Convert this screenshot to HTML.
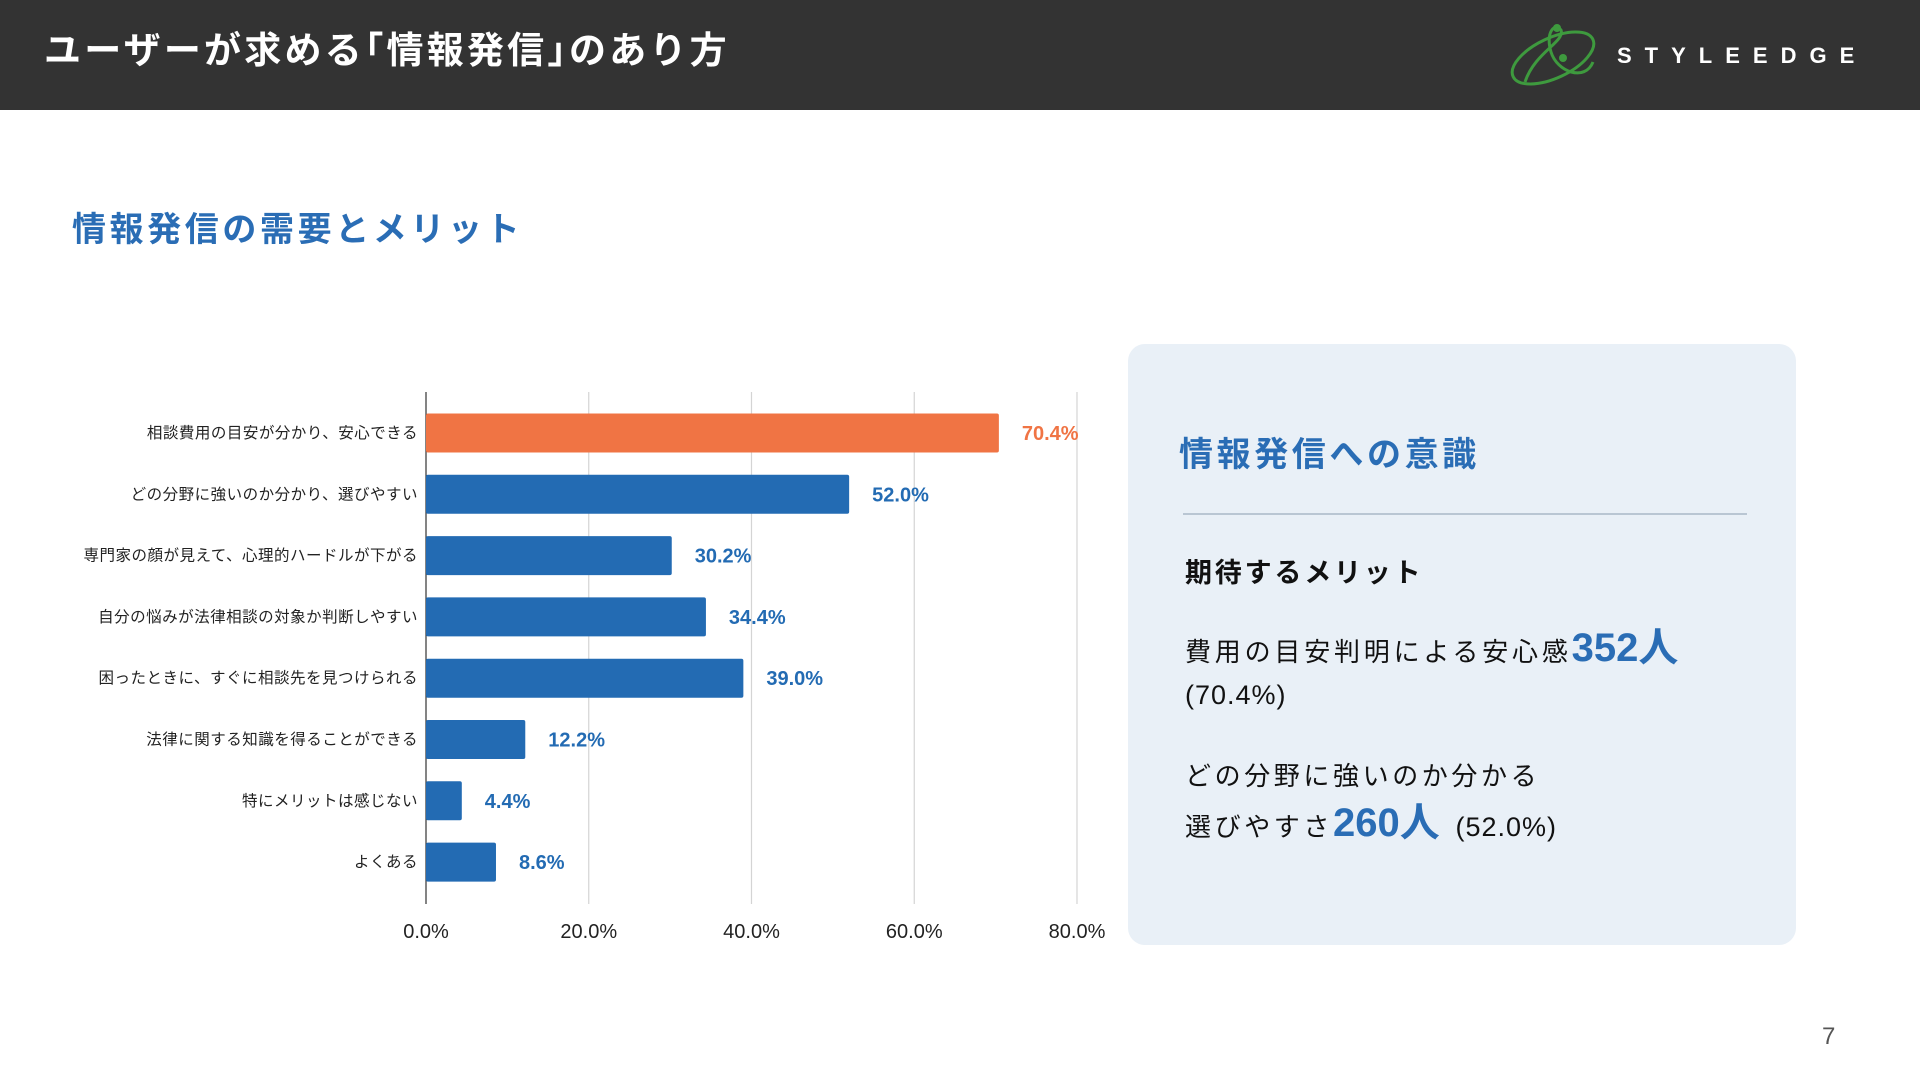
<!DOCTYPE html>
<html lang="ja"><head><meta charset="utf-8">
<style>
html,body{margin:0;padding:0;}
body{width:1920px;height:1080px;position:relative;background:#fff;overflow:hidden;font-family:"Liberation Sans","Noto Sans CJK JP",sans-serif;}
.abs{position:absolute;white-space:nowrap;}
</style></head>
<body>
<div class="abs" style="left:0;top:0;width:1920px;height:110px;background:#333333;"></div>
<div class="abs" style="left:44px;top:28px;font-size:37px;font-weight:bold;color:#fff;line-height:46px;letter-spacing:3.2px;">ユーザーが求める｢情報発信｣のあり方</div>
<svg class="abs" style="left:1505px;top:22px" width="96" height="66" viewBox="0 0 96 66">
 <ellipse cx="48" cy="36" rx="44" ry="20" fill="none" stroke="#3e9a3e" stroke-width="3" transform="rotate(-25 48 36)"/>
 <path d="M20 60 C 30 30, 60 20, 56 8 C 50 0, 40 10, 46 30 C 52 50, 80 60, 88 40" fill="none" stroke="#3e9a3e" stroke-width="3"/>
 <circle cx="52" cy="6" r="4" fill="#3e9a3e"/>
 <circle cx="58" cy="36" r="4" fill="#3e9a3e"/>
</svg>
<div class="abs" style="left:1617px;top:43px;font-size:22px;font-weight:bold;color:#fff;letter-spacing:13px;line-height:26px;">STYLEEDGE</div>

<div class="abs" style="left:72px;top:208px;font-size:34px;font-weight:bold;color:#2a6db5;line-height:44px;letter-spacing:3.6px;">情報発信の需要とメリット</div>

<svg id="chart" class="abs" style="left:0;top:0" width="1120" height="1000"></svg>

<div class="abs" style="left:1128px;top:344px;width:668px;height:601px;background:#e9f0f7;border-radius:17px;"></div>
<div class="abs" style="left:1179px;top:433px;font-size:34px;font-weight:bold;color:#2a6db5;line-height:44px;letter-spacing:3.6px;">情報発信への意識</div>
<div class="abs" style="left:1183px;top:513px;width:564px;height:2px;background:#b9c6d3;"></div>
<div class="abs" style="left:1185px;top:556px;font-size:27px;font-weight:bold;color:#111;line-height:34px;letter-spacing:2.8px;">期待するメリット</div>
<div class="abs" style="left:1185px;top:624px;font-size:26px;color:#111;line-height:48px;"><span style="letter-spacing:3.8px;">費用の目安判明による安心感</span><span style="font-size:40px;font-weight:bold;color:#2a6db5;">352人</span></div>
<div class="abs" style="left:1185px;top:678px;font-size:27px;color:#111;line-height:34px;letter-spacing:1px;">(70.4%)</div>
<div class="abs" style="left:1185px;top:759px;font-size:26px;color:#111;line-height:34px;letter-spacing:3.6px;">どの分野に強いのか分かる</div>
<div class="abs" style="left:1185px;top:799px;font-size:26px;color:#111;line-height:48px;"><span style="letter-spacing:3.6px;">選びやすさ</span><span style="font-size:40px;font-weight:bold;color:#2a6db5;">260人</span> <span style="font-size:27px;letter-spacing:1px;">&nbsp;(52.0%)</span></div>

<div class="abs" style="left:1822px;top:1023px;font-size:24px;color:#555;line-height:28px;">7</div>

<script>
const categories=["相談費用の目安が分かり、安心できる","どの分野に強いのか分かり、選びやすい","専門家の顔が見えて、心理的ハードルが下がる","自分の悩みが法律相談の対象か判断しやすい","困ったときに、すぐに相談先を見つけられる","法律に関する知識を得ることができる","特にメリットは感じない","よくある"];
const values=[70.4,52.0,30.2,34.4,39.0,12.2,4.4,8.6];
const ticks=[0,20,40,60,80];
const tickLabels=["0.0%","20.0%","40.0%","60.0%","80.0%"];
const NS="http://www.w3.org/2000/svg";
const svg=document.getElementById("chart");
const X0=426,X1=1077,VMAX=80,TOP=392,BOT=904,C0=433,STEP=61.3,BH=39;
const xs=v=>X0+(X1-X0)*v/VMAX;
const yc=i=>C0+i*STEP;
function mk(tag,attrs){const e=document.createElementNS(NS,tag);for(const k in attrs)e.setAttribute(k,attrs[k]);svg.appendChild(e);return e;}
ticks.forEach((t,i)=>{
  if(t>0){const g=mk("line",{x1:xs(t),x2:xs(t),y1:TOP,y2:BOT,stroke:"#d4d4d4","stroke-width":1.2});
  
  }
  const tl=mk("text",{x:xs(t),y:938,"text-anchor":"middle","font-size":20,fill:"#222"});
  tl.textContent=tickLabels[i];
  
  
});
const ax=mk("line",{x1:X0,x2:X0,y1:TOP,y2:BOT,stroke:"#333","stroke-width":1.2});


values.forEach((v,i)=>{
  const col=i===0?"#f07444":"#236bb3";
  const r=mk("rect",{x:X0,y:yc(i)-BH/2,width:xs(v)-X0,height:BH,fill:col,rx:2});
  
  
  const vl=mk("text",{x:xs(v)+23,y:yc(i)+7,"font-size":20,"font-weight":"bold",fill:col});
  vl.textContent=v.toFixed(1)+"%";
  
  
  const cl=mk("text",{x:418,y:yc(i)+5,"text-anchor":"end","font-size":15.5,fill:"#222","letter-spacing":"0.5"});
  cl.textContent=categories[i];
  
  
});
</script>
</body></html>
